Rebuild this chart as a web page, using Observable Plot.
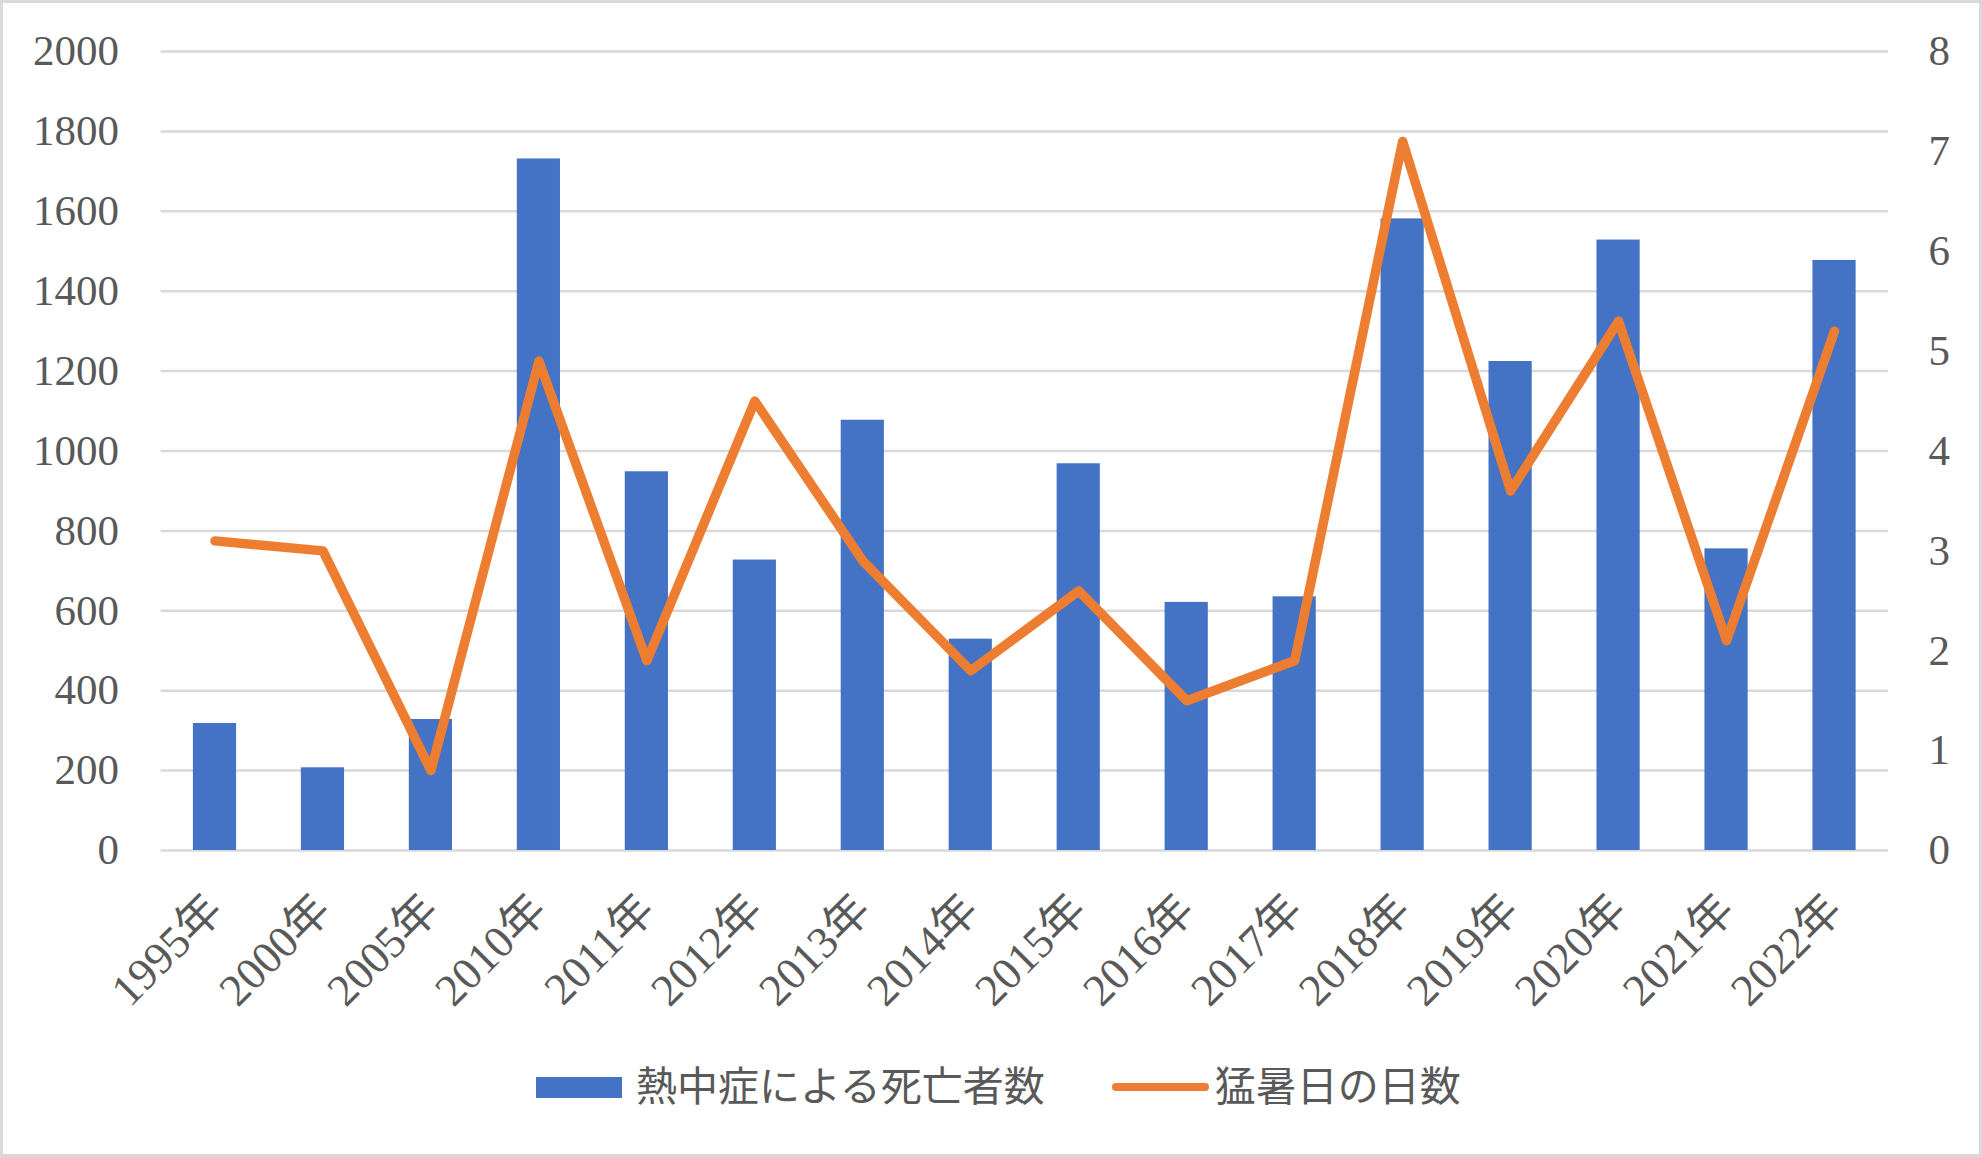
<!DOCTYPE html>
<html>
<head>
<meta charset="utf-8">
<script src="https://cdn.jsdelivr.net/npm/d3@7"></script>
<script src="https://cdn.jsdelivr.net/npm/@observablehq/plot@0.6"></script>
<style>
  html, body { margin: 0; padding: 0; background: #fff; }
  #wrap { position: relative; width: 1982px; height: 1157px; overflow: hidden; background: #fff; }
  #border { position: absolute; left: 0; top: 0; width: 1982px; height: 1157px; box-sizing: border-box; border: 3px solid #d9d9d9; pointer-events: none; }
  #chart { position: absolute; left: 0; top: 0; }
  #legend { position: absolute; left: 536px; top: 1057px; height: 60px; display: flex; align-items: center;
            font-family: "Noto Sans CJK JP", sans-serif; font-size: 41px; color: #595959; }
  #legend span { position: relative; top: -4px; }
  .sw-bar { width: 86px; height: 21px; background: #4472C4; margin-right: 14px; }
  .sw-line { width: 97px; height: 8px; border-radius: 4px; background: #ED7D31; margin-left: 67px; margin-right: 6px; }
</style>
</head>
<body>
<div id="wrap">
  <div id="chart"></div>
  <div id="legend">
    <div class="sw-bar"></div><span id="lg1"></span>
    <div class="sw-line"></div><span id="lg2"></span>
  </div>
  <div id="border"></div>
</div>
<script>
// ---- data ----
const years = ["1995年","2000年","2005年","2010年","2011年","2012年","2013年","2014年","2015年","2016年","2017年","2018年","2019年","2020年","2021年","2022年"];
const deaths = [318, 207, 328, 1731, 948, 727, 1077, 529, 968, 621, 635, 1581, 1224, 1528, 755, 1477];
const hotDays = [3.1, 3.0, 0.8, 4.9, 1.9, 4.5, 2.9, 1.8, 2.6, 1.5, 1.9, 7.1, 3.6, 5.3, 2.1, 5.2];
const leftTicks = [0, 200, 400, 600, 800, 1000, 1200, 1400, 1600, 1800, 2000];
const rightTicks = [0, 1, 2, 3, 4, 5, 6, 7, 8];
const seriesNames = ["熱中症による死亡者数", "猛暑日の日数"];

document.getElementById("lg1").textContent = seriesNames[0];
document.getElementById("lg2").textContent = seriesNames[1];

// right axis maps 0..8 onto left 0..2000
const leftMax = leftTicks[leftTicks.length - 1];
const rightMax = rightTicks[rightTicks.length - 1];
const k = leftMax / rightMax;

const table = years.map((y, i) => ({year: y, deaths: deaths[i], days: hotDays[i], daysScaled: hotDays[i] * k}));

const W = 1982, H = 1040;
const font = '"Liberation Serif", "Noto Sans CJK JP", serif';

const chart = Plot.plot({
  width: W,
  height: H,
  marginLeft: 160.5,
  marginRight: 94,
  marginTop: 51,
  marginBottom: 190,
  style: {fontFamily: font, color: "#595959", background: "transparent", overflow: "visible"},
  x: {type: "band", domain: years, paddingInner: 0.6, paddingOuter: 0.3, round: false, axis: null},
  y: {domain: [0, leftMax], axis: null},
  marks: [
    Plot.gridY(leftTicks, {stroke: "#d9d9d9", strokeOpacity: 1, strokeWidth: 2.5}),
    Plot.barY(table, {x: "year", y: "deaths", fill: "#4472C4"}),
    Plot.line(table, {x: "year", y: "daysScaled", stroke: "#ED7D31", strokeWidth: 9.5, strokeLinejoin: "round", strokeLinecap: "round"}),
    Plot.axisY(leftTicks, {anchor: "left", tickSize: 0, tickPadding: 42, fontSize: 43, fill: "#595959", tickFormat: d => String(d)}),
    Plot.axisY(rightTicks.map(d => d * k), {anchor: "right", tickSize: 0, tickPadding: 40, fontSize: 43, fill: "#595959", tickFormat: d => String(Math.round(d / k))}),
    Plot.axisX(years, {anchor: "bottom", tickSize: 0, tickPadding: 52, tickRotate: -45, fontSize: 45, fill: "#595959", label: null})
  ]
});
document.getElementById("chart").appendChild(chart);
</script>
</body>
</html>
